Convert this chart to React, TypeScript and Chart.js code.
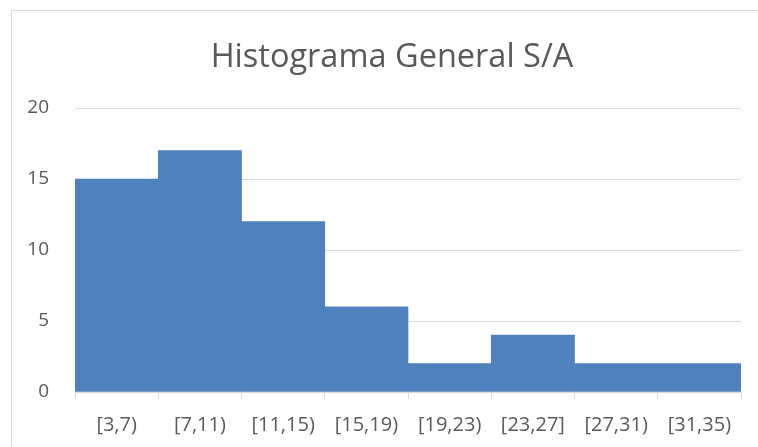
import React, { useEffect, useRef } from "react";
import { Chart, registerables } from "chart.js";

Chart.register(...registerables);

const categories = ["[3,7)", "[7,11)", "[11,15)", "[15,19)", "[19,23)", "[23,27]", "[27,31)", "[31,35)"];
const frequencies = [15, 17, 12, 6, 2, 4, 2, 2];
const chartTitle = "Histograma General S/A";

const centerTitlePlugin = {
  id: "centerTitleOnCanvas",
  afterLayout(chart: any) {
    const tb = chart.titleBlock;
    if (tb) {
      tb.left = 0;
      tb.right = chart.width;
      tb.width = chart.width;
    }
  },
};

export default function App() {
  const ref = useRef<HTMLCanvasElement | null>(null);
  useEffect(() => {
    document.documentElement.style.overflow = "hidden";
    document.body.style.overflow = "hidden";
    const ctx = ref.current!;
    const chart = new Chart(ctx, {
      type: "bar",
      data: {
        labels: categories,
        datasets: [
          {
            data: frequencies,
            backgroundColor: "#4F81BD",
            borderWidth: 0,
            barPercentage: 1,
            categoryPercentage: 1,
          },
        ],
      },
      plugins: [centerTitlePlugin],
      options: {
        animation: false,
        responsive: false,
        maintainAspectRatio: false,
        layout: { padding: { top: 0, right: 31, bottom: 0, left: 0 } },
        plugins: {
          legend: { display: false },
          tooltip: { enabled: false },
          title: {
            display: true,
            text: chartTitle,
            color: "#595959",
            font: { family: "Open Sans", size: 32.5, weight: "normal", lineHeight: 1.2 },
            padding: { top: 27, bottom: 31 },
          },
        },
        scales: {
          x: {
            grid: {
              drawOnChartArea: false,
              drawTicks: true,
              tickLength: 7,
              color: "#d9d9d9",
              offset: true,
            },
            border: { color: "#d9d9d9" },
            ticks: {
              color: "#595959",
              font: { family: "Open Sans", size: 20 },
              padding: 14,
              maxRotation: 0,
              autoSkip: false,
            },
            afterFit: (s: any) => {
              s.height = 69;
            },
          },
          y: {
            min: 0,
            max: 20,
            grid: { color: "#d9d9d9", drawTicks: false },
            border: { display: false },
            ticks: {
              stepSize: 5,
              color: "#595959",
              font: { family: "Open Sans", size: 19 },
              padding: 26,
            },
            afterFit: (s: any) => {
              s.width = 63;
            },
          },
        },
      },
    });
    return () => chart.destroy();
  }, []);
  return (
    <div
      style={{
        position: "absolute",
        left: 11,
        top: 10,
        border: "1px solid #d9d9d9",
        width: 760,
        height: 450,
        background: "#fff",
      }}
    >
      <canvas ref={ref} width={760} height={450} style={{ display: "block" }} />
    </div>
  );
}
